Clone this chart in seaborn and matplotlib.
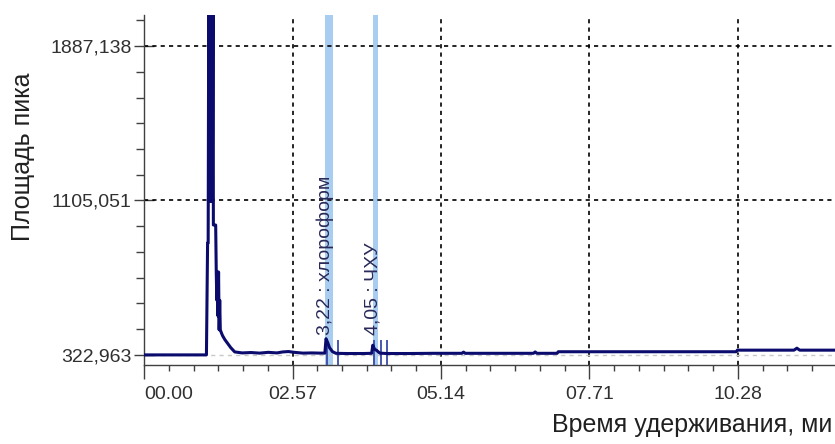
import matplotlib
matplotlib.use("Agg")
import matplotlib.pyplot as plt
from matplotlib.ticker import FixedLocator, MultipleLocator
import seaborn as sns
import pandas as pd

# Хроматограмма: время (мин) и площадь пика
time = [0.00, 1.08, 1.10, 1.11, 1.120, 1.127, 1.134, 1.141, 1.148, 1.155, 1.162,
        1.169, 1.176, 1.183, 1.190, 1.197, 1.20, 1.21, 1.24, 1.25, 1.26, 1.27,
        1.28, 1.29, 1.30, 1.31, 1.32, 1.34,
        1.36, 1.40, 1.44, 1.50, 1.57, 1.70, 1.85, 2.00, 2.15, 2.30, 2.40, 2.50,
        2.60, 2.75, 2.90, 3.05, 3.13, 3.15, 3.18, 3.21, 3.26, 3.32, 3.50, 3.80,
        3.94, 3.96, 3.99, 4.03, 4.08, 4.20, 4.60, 5.00, 5.50, 5.53, 5.56, 6.00,
        6.74, 6.77, 6.80, 7.15, 7.17, 8.50, 10.25, 10.27, 11.00, 11.25, 11.30,
        11.35, 11.96]
area = [323, 323, 890, 890, 2100, 1100, 2100, 1100, 2100, 1100, 2100,
        1100, 2100, 1100, 2100, 2100, 981, 981, 981, 743, 600, 743,
        520, 743, 450, 600, 450, 434,
        420, 400, 384, 360, 338, 333, 335, 332, 336, 333, 338, 340,
        336, 332, 333, 332, 332, 405, 385, 360, 340, 331, 330, 330,
        331, 372, 352, 345, 332, 330, 330, 331, 331, 337, 331, 331,
        331, 338, 331, 331, 339, 339, 339, 347, 347, 347, 357,
        347, 347]

# Отмеченные пики
peak_labels = ["3,22 : хлороформ", "4,05 : ЧХУ"]
peak_label_x = [3.13, 3.96]
band_left = [3.13, 3.96]
band_right = [3.27, 4.05]
marks = [3.17, 3.36, 3.98, 4.10, 4.20]

y_major = [322.963, 1105.051, 1887.138]
y_major_labels = ["322,963", "1105,051", "1887,138"]
x_major = [0.0, 2.57, 5.14, 7.71, 10.28]
x_major_labels = ["00.00", "02.57", "05.14", "07.71", "10.28"]

df = pd.DataFrame({"time": time, "area": area})

sns.set_theme(style="white")
plt.rcParams["font.family"] = ["Liberation Sans", "DejaVu Sans"]

fig = plt.figure(figsize=(8.35, 4.44), dpi=100)
ax = fig.add_axes([0.1725, 0.178, 0.8275, 0.788])

for l, r in zip(band_left, band_right):
    ax.axvspan(l, r, color="#a9cdf0", lw=0, zorder=1)

for y in y_major[1:]:
    ax.axhline(y, color="black", lw=1.2, ls=(0, (2.5, 2.5)), zorder=2)
for x in x_major[1:]:
    ax.axvline(x, color="black", lw=1.2, ls=(0, (2.5, 2.5)), zorder=2)

ax.axhline(322.963, color="#c8c8c8", lw=1, ls=(0, (3, 3)), zorder=2)

sns.lineplot(data=df, x="time", y="area", ax=ax, color="#0b0b6e", lw=2.2,
             estimator=None, sort=False, zorder=4)

ax.vlines(marks, 272, 400, color="#3a4aa8", lw=1.3, zorder=3)

for lbl, x in zip(peak_labels, peak_label_x):
    ax.text(x, 424, lbl, rotation=90, ha="center", va="bottom",
            fontsize=14, color="#2a2a5a", zorder=5)

ax.set_xlim(0, 11.96)
ax.set_ylim(272, 2044)

ax.yaxis.set_major_locator(FixedLocator(y_major))
ax.set_yticklabels(y_major_labels)
ax.yaxis.set_minor_locator(MultipleLocator(130.348, offset=322.963))
ax.xaxis.set_major_locator(FixedLocator(x_major))
ax.set_xticklabels(x_major_labels)
ax.xaxis.set_minor_locator(MultipleLocator(2.57 / 6))

ax.tick_params(axis="y", which="major", direction="inout", length=14, width=1,
               color="#404040", labelsize=14, pad=2, left=True)
ax.tick_params(axis="y", which="minor", direction="out", length=6, width=1,
               color="#404040", left=True)
ax.tick_params(axis="x", which="major", direction="out", length=10, width=1,
               color="#404040", labelsize=14, pad=5, bottom=True)
ax.tick_params(axis="x", which="minor", direction="out", length=4, width=1,
               color="#404040", bottom=True)
ax.get_xticklabels()[0].set_ha("left")
for t in ax.get_xticklabels() + ax.get_yticklabels():
    t.set_color("#303030")

for s in ["top", "right"]:
    ax.spines[s].set_visible(False)
for s in ["left", "bottom"]:
    ax.spines[s].set_color("#404040")
    ax.spines[s].set_linewidth(1)

ax.set_xlabel("")
ax.set_ylabel("")
fig.text(0.027, 0.646, "Площадь пика", rotation=90, ha="center", va="center",
         fontsize=18, color="#202020")
fig.text(0.997, 0.043, "Время удерживания, ми", ha="right", va="center",
         fontsize=18, color="#202020")

fig.savefig("out.png", dpi=100)
